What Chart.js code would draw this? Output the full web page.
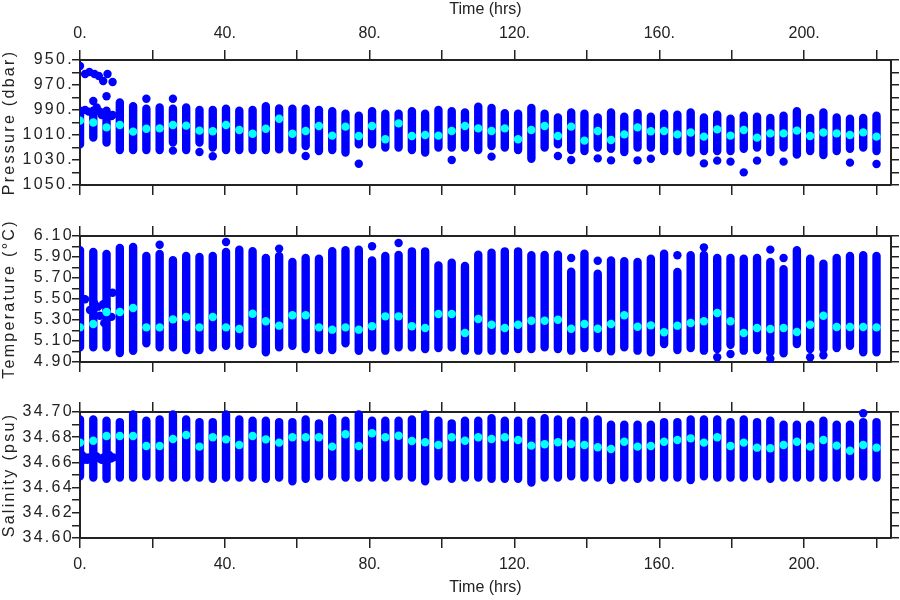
<!DOCTYPE html>
<html><head><meta charset="utf-8">
<script src="https://cdn.jsdelivr.net/npm/chart.js@4.4.1/dist/chart.umd.min.js"></script>
<style>
html,body{margin:0;padding:0;background:#fff;}
#wrap{position:relative;width:900px;height:600px;overflow:hidden;}
canvas{position:absolute;left:0;top:0;}
</style></head><body>
<div id="wrap">
<canvas id="cP" width="900" height="600"></canvas>
<canvas id="cT" width="900" height="600"></canvas>
<canvas id="cS" width="900" height="600"></canvas>
</div>
<script>
// ---- profile times (hrs) ----
const times = [0, 3.67, 7.33, 11, 14.67, 18.33, 22, 25.67, 29.33, 33, 36.67, 40.33, 44, 47.67, 51.33, 55, 58.67, 62.33, 66, 69.67, 73.33, 77, 80.67, 84.33, 88, 91.67, 95.33, 99, 102.67, 106.33, 110, 113.67, 117.33, 121, 124.67, 128.33, 132, 135.67, 139.33, 143, 146.67, 150.33, 154, 157.67, 161.33, 165, 168.67, 172.33, 176, 179.67, 183.33, 187, 190.67, 194.33, 198, 201.67, 205.33, 209, 212.67, 216.33, 220];

// ---- pressure (dbar) ----
const pressureTop = [990.5, 990.5, 990.5, 984, 987, 989, 988, 989, 988, 990, 990, 989, 990.5, 990, 987, 988.7, 989, 989, 990, 991, 993, 994.5, 991, 993, 993, 991, 993, 990, 991, 992, 987.3, 988.4, 992.6, 993, 988.4, 993, 996, 992, 993, 996, 992, 995.3, 992.6, 995.3, 993, 993.7, 992, 996, 993.7, 997, 994.5, 995.3, 996.4, 994.5, 991, 996.4, 992, 996, 997, 996.4, 994.5];
const pressureBottom = [1017.5, 1012, 1016, 1022, 1022, 1022, 1022, 1016, 1022, 1016, 1020, 1022, 1022, 1022, 1022, 1021.5, 1022, 1018.8, 1022.8, 1022, 1024, 1017.5, 1017.5, 1020, 1020, 1022, 1024, 1020, 1020, 1020, 1022, 1018.8, 1020, 1022, 1029, 1020, 1017.5, 1022, 1022.8, 1020, 1021, 1023.6, 1020, 1020, 1022.8, 1022.8, 1024, 1022.8, 1022.8, 1022.8, 1021, 1020, 1023.6, 1020, 1025.7, 1022.8, 1026, 1022.8, 1021, 1020, 1022.8];
const pressureMean = [998.5, 1000, 1003.9, 1002, 1007.3, 1005, 1004.7, 1002, 1002.5, 1006.5, 1007, 1002, 1006, 1009, 1005, 997, 1009, 1006.8, 1002.8, 1010.5, 1003.3, 1010.8, 1002.8, 1013.4, 1000.7, 1010.8, 1010, 1010.5, 1006.8, 1002.8, 1004.7, 1006.8, 1004.7, 1013.4, 1006, 1002.8, 1010.8, 1003.3, 1014.5, 1006.8, 1014, 1009.5, 1003.9, 1007, 1006.8, 1009.5, 1008, 1011.3, 1005.5, 1010.5, 1006, 1012.1, 1008.7, 1008.7, 1006.5, 1010.8, 1008, 1008.7, 1010, 1007.9, 1011.3];
const pressureExtraT = [0, 1.4, 2.6, 4.0, 5.2, 6.4, 7.6, 9.0, 3.67, 7.33, 1.4, 2.4, 4.6, 5.5, 6.0, 8.7, 9.0, 18.33, 25.67, 25.67, 33, 36.67, 62.33, 77, 102.67, 113.67, 132, 135.67, 143, 146.67, 154, 157.67, 172.33, 176, 179.67, 183.33, 187, 194.33, 212.67, 220];
const pressureExtraV = [954.8, 961.2, 959.6, 961.2, 962.8, 966.8, 961.2, 967.6, 982.8, 979, 990, 991.3, 987.9, 991.3, 994, 994.8, 994, 981, 981, 1022.5, 1023.6, 1027, 1026.8, 1033, 1030, 1027.3, 1026.8, 1030, 1028.7, 1030.3, 1030.3, 1029, 1032.7, 1030.5, 1031.3, 1039.9, 1030.5, 1031.3, 1032.1, 1033.2];

// ---- temperature (°C) ----
const tempTop = [5.964, 5.948, 5.93, 5.986, 5.995, 5.91, 5.929, 5.87, 5.91, 5.90, 5.91, 5.948, 5.97, 5.955, 5.89, 5.91, 5.853, 5.89, 5.884, 5.955, 5.964, 5.97, 5.868, 5.91, 5.92, 5.954, 5.954, 5.82, 5.846, 5.814, 5.922, 5.94, 5.954, 5.954, 5.916, 5.92, 5.922, 5.76, 5.931, 5.74, 5.868, 5.859, 5.852, 5.884, 5.931, 5.757, 5.916, 5.92, 5.89, 5.89, 5.884, 5.89, 5.852, 5.783, 5.964, 5.884, 5.836, 5.89, 5.91, 5.916, 5.91];
const tempBottom = [5.04, 5.04, 5.04, 4.986, 5.007, 5.078, 5.04, 5.04, 5.014, 5.014, 5.04, 5.055, 5.055, 5.071, 4.993, 5.04, 5.055, 5.024, 5.014, 5.014, 5.078, 5.007, 5.04, 5.008, 5.04, 5.04, 5.024, 5.033, 5.04, 5.008, 5.008, 5.008, 5.008, 5.024, 5.024, 5.04, 5.024, 5.008, 5.033, 5.033, 5.002, 5.04, 5.008, 4.992, 5.071, 5.014, 5.033, 5.008, 5.024, 5.065, 5.008, 5.014, 4.992, 4.983, 5.071, 5.024, 5.024, 5.033, 5.055, 4.992, 4.992];
const tempMean = [5.23, 5.262, 5.376, 5.376, 5.414, 5.23, 5.23, 5.306, 5.328, 5.23, 5.328, 5.23, 5.214, 5.36, 5.288, 5.246, 5.345, 5.345, 5.23, 5.208, 5.23, 5.208, 5.24, 5.335, 5.335, 5.24, 5.224, 5.357, 5.357, 5.176, 5.31, 5.255, 5.224, 5.255, 5.293, 5.293, 5.303, 5.217, 5.262, 5.217, 5.262, 5.345, 5.236, 5.249, 5.183, 5.246, 5.271, 5.288, 5.367, 5.288, 5.176, 5.224, 5.214, 5.224, 5.186, 5.255, 5.341, 5.233, 5.233, 5.233, 5.23];
const tempExtraT = [0.9, 1.4, 2.76, 3.7, 3.9, 5.0, 5.5, 6.4, 6.7, 7.4, 8.7, 9.0, 22, 40.33, 55, 80.67, 88, 135.67, 143, 165, 172.33, 176, 179.67, 190.67, 190.67, 194.33, 201.67, 205.33];
const tempExtraV = [5.50, 5.497, 5.395, 5.40, 5.46, 5.427, 5.34, 5.45, 5.27, 5.395, 5.33, 5.56, 6.017, 6.043, 5.98, 6.002, 6.033, 5.89, 5.865, 5.916, 5.992, 4.945, 4.976, 5.97, 4.931, 5.89, 4.945, 4.964];

// ---- salinity (psu) ----
const salTop = [34.694, 34.694, 34.693, 34.692, 34.698, 34.693, 34.694, 34.698, 34.694, 34.692, 34.692, 34.698, 34.694, 34.693, 34.693, 34.692, 34.692, 34.694, 34.691, 34.695, 34.693, 34.698, 34.693, 34.693, 34.693, 34.694, 34.698, 34.693, 34.691, 34.693, 34.693, 34.695, 34.693, 34.693, 34.693, 34.695, 34.694, 34.693, 34.693, 34.694, 34.690, 34.690, 34.690, 34.690, 34.692, 34.692, 34.694, 34.694, 34.694, 34.692, 34.694, 34.692, 34.693, 34.690, 34.690, 34.690, 34.693, 34.690, 34.690, 34.692, 34.692];
const salBottom = [34.649, 34.648, 34.647, 34.648, 34.648, 34.649, 34.648, 34.648, 34.648, 34.648, 34.647, 34.648, 34.648, 34.648, 34.647, 34.648, 34.645, 34.647, 34.649, 34.649, 34.648, 34.648, 34.648, 34.648, 34.649, 34.648, 34.645, 34.649, 34.647, 34.648, 34.648, 34.647, 34.647, 34.647, 34.644, 34.648, 34.648, 34.649, 34.648, 34.648, 34.646, 34.648, 34.647, 34.648, 34.648, 34.648, 34.646, 34.649, 34.648, 34.648, 34.648, 34.649, 34.647, 34.648, 34.648, 34.648, 34.648, 34.648, 34.649, 34.649, 34.648];
const salMean = [34.6757, 34.6772, 34.681, 34.681, 34.681, 34.673, 34.673, 34.6786, 34.6817, 34.6725, 34.68, 34.6783, 34.6738, 34.681, 34.6783, 34.6757, 34.68, 34.68, 34.68, 34.6725, 34.6823, 34.673, 34.6831, 34.68, 34.6812, 34.677, 34.676, 34.6738, 34.68, 34.6772, 34.68, 34.6786, 34.68, 34.6778, 34.6733, 34.6744, 34.676, 34.6746, 34.6738, 34.672, 34.6706, 34.6764, 34.6725, 34.673, 34.6764, 34.6778, 34.6791, 34.6757, 34.68, 34.673, 34.6757, 34.6717, 34.6712, 34.6738, 34.6764, 34.6725, 34.6778, 34.6733, 34.6693, 34.6738, 34.6717];
const salExtraT = [0.5, 1.0, 1.5, 2.0, 2.5, 3.5, 4.5, 5.5, 6.0, 6.5, 7.5, 8.0, 8.5, 9.2, 216.33];
const salExtraV = [34.666, 34.662, 34.664, 34.662, 34.664, 34.663, 34.665, 34.663, 34.662, 34.664, 34.662, 34.666, 34.663, 34.664, 34.699];

// ---- axis tick settings ----
const xRange = [0, 224];
const xStep = 20;

const FONT = {family: "'Liberation Sans', Arial, sans-serif", size: 16};
const INK = '#222';
const BLUE = '#0000ff';
const CYAN = '#00ffff';
const CLIP = {left: 0, right: 0, top: 6, bottom: 6};

// y-axis text in the reference is drawn with wider letter spacing
function spaceOut(s) {
  if (s.$spaced) return;
  s.$spaced = true;
  const orig = s.draw;
  s.draw = function (area) {
    const c = this.ctx;
    const prev = c.letterSpacing;
    c.letterSpacing = '2.3px';
    orig.call(this, area);
    c.letterSpacing = prev || '0px';
  };
}

function xAxis(pos, h, showLabels, showTitle) {
  return {
    type: 'linear', axis: 'x', position: pos, min: xRange[0], max: xRange[1],
    afterFit: s => { s.height = h; },
    border: {display: true, color: INK, width: 2},
    grid: {drawOnChartArea: false, drawTicks: true, tickLength: 10, color: INK, lineWidth: 1.5},
    ticks: {display: showLabels, stepSize: xStep, includeBounds: false, autoSkip: false, maxRotation: 0,
            padding: 7, color: INK, font: FONT,
            callback: v => (Math.round(v) % 40 === 0 ? Math.round(v) + '.' : '')},
    title: {display: showTitle, text: 'Time (hrs)', color: INK, font: FONT, padding: {top: 0, bottom: 3}}
  };
}
function yAxes(min, max, step, reverse, title, labelFn) {
  const border = {display: true, color: INK, width: 2};
  const grid = {drawOnChartArea: false, drawTicks: true, tickLength: 8, color: INK, lineWidth: 1.5};
  return {
    y: {type: 'linear', axis: 'y', position: 'left', min, max, reverse, border, grid,
        afterFit: s => { s.width = 80; spaceOut(s); },
        ticks: {stepSize: step, includeBounds: false, autoSkip: false, padding: -2, color: INK, font: FONT, callback: labelFn},
        title: {display: true, text: title, color: INK, font: FONT, padding: 0}},
    y2: {type: 'linear', axis: 'y', position: 'right', min, max, reverse, border, grid,
        afterFit: s => { s.width = 9; },
        ticks: {display: false, stepSize: step, includeBounds: false, autoSkip: false}}
  };
}
function datasets(top, bottom, mean, exT, exV) {
  const seg = [];
  times.forEach((t, k) => { seg.push({x: t, y: top[k]}, {x: t, y: bottom[k]}, {x: t, y: null}); });
  return [
    {type: 'scatter', data: times.map((t, k) => ({x: t, y: mean[k]})), xAxisID: 'x', yAxisID: 'y',
     pointRadius: 4.2, pointBackgroundColor: CYAN, pointBorderWidth: 0, showLine: false, order: 1, clip: CLIP},
    {type: 'scatter', data: exT.map((t, i) => ({x: t, y: exV[i]})), xAxisID: 'x', yAxisID: 'y',
     pointRadius: 4.2, pointBackgroundColor: BLUE, pointBorderWidth: 0, showLine: false, order: 2, clip: CLIP},
    {type: 'line', data: seg, xAxisID: 'x', yAxisID: 'y', borderColor: BLUE, borderWidth: 8.4,
     borderCapStyle: 'round', pointRadius: 0, spanGaps: false, tension: 0, fill: false, order: 3, clip: CLIP}
  ];
}
// each panel gets its own full-size transparent canvas; padding places its plot box
function makeChart(id, ds, xTop, xBot, ys, padTop, padBottom) {
  return new Chart(document.getElementById(id), {
    type: 'line',
    data: {datasets: ds},
    options: {
      responsive: false, animation: false, devicePixelRatio: 1, events: [],
      layout: {padding: {left: 0, right: 0, top: padTop, bottom: padBottom}},
      plugins: {legend: {display: false}, tooltip: {enabled: false}},
      scales: Object.assign({x: xBot, x2: xTop}, ys)
    }
  });
}

makeChart('cP', datasets(pressureTop, pressureBottom, pressureMean, pressureExtraT, pressureExtraV),
  xAxis('top', 60, true, true), xAxis('bottom', 10, false, false),
  yAxes(950, 1050, 10, true, 'Pressure (dbar)', v => (Math.round(v) % 20 === 10 ? Math.round(v) + '.' : '')),
  0, 405);
makeChart('cT', datasets(tempTop, tempBottom, tempMean, tempExtraT, tempExtraV),
  xAxis('top', 41, false, false), xAxis('bottom', 10, false, false),
  yAxes(4.9, 6.1, 0.1, false, 'Temperature (°C)', v => (Math.round(v * 10) % 2 === 1 ? v.toFixed(2) : '')),
  195, 228);
makeChart('cS', datasets(salTop, salBottom, salMean, salExtraT, salExtraV),
  xAxis('top', 40, false, false), xAxis('bottom', 62, true, true),
  yAxes(34.6, 34.7, 0.01, false, 'Salinity (psu)', v => (Math.round(v * 100) % 2 === 0 ? v.toFixed(2) : '')),
  372, 0);
</script>
</body></html>
